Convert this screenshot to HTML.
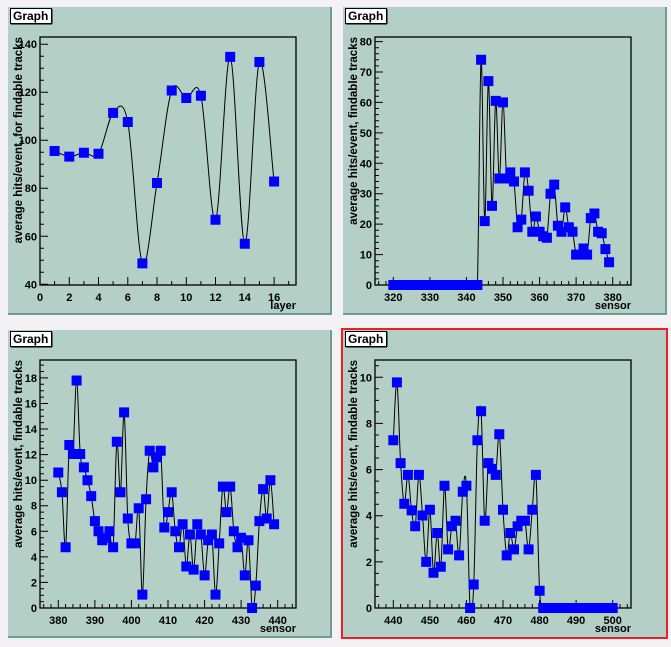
<!DOCTYPE html>
<html><head><meta charset="utf-8"><style>
html,body{margin:0;padding:0;background:#f3f1f4;}
svg{display:block;font-family:"Liberation Sans",sans-serif;}
</style></head><body>
<svg id="s" width="671" height="647" xmlns="http://www.w3.org/2000/svg"></svg>
<script>
var S=document.getElementById('s'),out='';
function catmull(p){
 if(p.length<2)return '';
 var d='M'+p[0][0].toFixed(2)+','+p[0][1].toFixed(2);
 for(var i=0;i<p.length-1;i++){
  var p0=p[i-1]||p[i],p1=p[i],p2=p[i+1],p3=p[i+2]||p[i+1];
  var c1x=p1[0]+(p2[0]-p0[0])/6,c1y=p1[1]+(p2[1]-p0[1])/6;
  var c2x=p2[0]-(p3[0]-p1[0])/6,c2y=p2[1]-(p3[1]-p1[1])/6;
  d+='C'+c1x.toFixed(2)+','+c1y.toFixed(2)+' '+c2x.toFixed(2)+','+c2y.toFixed(2)+' '+p2[0].toFixed(2)+','+p2[1].toFixed(2);
 }
 return d;
}
var pid=0;
function pad(ox,oy,c){
 pid++;
 var px0=ox+8,py0=oy+7,pw=324,ph=308;
 out+='<rect x="'+px0+'" y="'+py0+'" width="'+pw+'" height="'+ph+'" fill="#b4cfc6"/>';
 if(c.red){out+='<rect x="'+(px0-1)+'" y="'+(py0-1)+'" width="'+(pw+1)+'" height="'+(ph+1)+'" fill="none" stroke="#e8202a" stroke-width="2"/>';}
 else{
  out+='<rect x="'+(px0)+'" y="'+(py0+ph-2)+'" width="'+pw+'" height="2" fill="#6c9e90"/>';
  out+='<rect x="'+(px0+pw-2)+'" y="'+(py0)+'" width="2" height="'+ph+'" fill="#6c9e90"/>';
 }
 var fx0=ox+40,fx1=ox+296,fy0=oy+37,fy1=oy+285;
 function X(v){return fx0+(v-c.xmin)/(c.xmax-c.xmin)*(fx1-fx0);}
 function Y(v){return fy1-(v-c.ymin)/(c.ymax-c.ymin)*(fy1-fy0);}
 out+='<clipPath id="c'+pid+'"><rect x="'+fx0+'" y="'+fy0+'" width="'+(fx1-fx0)+'" height="'+(fy1-fy0)+'"/></clipPath>';
 // ticks
 var t='';
 for(var v=Math.ceil(c.xmin/c.xm)*c.xm;v<=c.xmax+1e-9;v+=c.xm){
  var x=X(v),maj=Math.abs(v/c.xM-Math.round(v/c.xM))<1e-6;
  t+='M'+x.toFixed(1)+','+fy1+'v-'+(maj?8:4);
  if(maj)out+='<text x="'+x.toFixed(1)+'" y="'+(fy1+16)+'" font-size="11" font-weight="bold" text-anchor="middle">'+Math.round(v)+'</text>';
 }
 for(var v=Math.ceil(c.ymin/c.ym)*c.ym;v<=c.ymax+1e-9;v+=c.ym){
  var y=Y(v),maj=Math.abs(v/c.yM-Math.round(v/c.yM))<1e-6;
  t+='M'+fx0+','+y.toFixed(1)+'h'+(maj?8:4);
  if(maj)out+='<text x="'+(fx0-3)+'" y="'+(y+4).toFixed(1)+'" font-size="11" font-weight="bold" text-anchor="end">'+Math.round(v)+'</text>';
 }
 out+='<rect x="'+fx0+'" y="'+fy0+'" width="'+(fx1-fx0)+'" height="'+(fy1-fy0)+'" fill="none" stroke="#000" stroke-width="1.3"/>';
 out+='<path d="'+t+'" stroke="#000" stroke-width="1" fill="none"/>';
 // titles
 out+='<text x="'+fx1+'" y="'+(oy+309)+'" font-size="11" font-weight="bold" text-anchor="end">'+c.xt+'</text>';
 out+='<text transform="translate('+(ox+22)+','+fy0+') rotate(-90)" font-size="11.5" font-weight="bold" text-anchor="end">'+c.yt+'</text>';
 // data
 var pts=c.d.map(function(p){return [X(p[0]),Y(p[1])];});
 out+='<path d="'+catmull(pts)+'" fill="none" stroke="#000" stroke-width="1" clip-path="url(#c'+pid+')"/>';
 var m='';
 pts.forEach(function(p){m+='M'+(p[0]-5).toFixed(1)+','+(p[1]-5).toFixed(1)+'h10v10h-10z';});
 out+='<path d="'+m+'" fill="#0000ff"/>';
 // Graph label
 out+='<rect x="'+(ox+10.5)+'" y="'+(oy+8.5)+'" width="41" height="15" fill="#fff" stroke="#000" stroke-width="1"/>';
 out+='<rect x="'+(ox+11)+'" y="'+(oy+23)+'" width="41" height="1.5" fill="#000"/><rect x="'+(ox+51)+'" y="'+(oy+9)+'" width="1.5" height="15" fill="#000"/>';
 out+='<text x="'+(ox+13)+'" y="'+(oy+20)+'" font-size="12" font-weight="bold">Graph</text>';
}
function seq(start,vals){return vals.map(function(v,i){return [start+i,v];});}
pad(0,0,{xmin:0,xmax:17.5,ymin:39.7,ymax:143,xm:1,xM:2,ym:5,yM:20,xt:'layer',yt:'average hits/event, for findable tracks',
 d:seq(1,[95.5,93.2,94.8,94.4,111.4,107.6,48.7,82.2,120.7,117.6,118.5,66.9,134.7,56.9,132.6,82.8])});
var d2=[];for(var i=320;i<=343;i++)d2.push(0);
d2=d2.concat([74,21,67,26,60.5,35,60,35,37,34,19,21.5,37,31,17.5,22.5,17.5,16,15.5,30,33,19.5,17.5,25.5,19,17.5,10,10,12,10,22,23.5,17.5,17,11.8,7.5]);
pad(335,0,{xmin:315,xmax:385,ymin:0,ymax:81.5,xm:2,xM:10,ym:2,yM:10,xt:'sensor',yt:'average hits/event, findable tracks',d:seq(320,d2)});
pad(0,323,{xmin:375,xmax:445,ymin:0,ymax:19.4,xm:2,xM:10,ym:0.5,yM:2,xt:'sensor',yt:'average hits/event, findable tracks',
 d:seq(380,[10.6,9.05,4.75,12.75,12.05,17.8,12.05,11.0,10.0,8.75,6.8,6.0,5.3,5.5,6.0,4.75,13.0,9.05,15.3,7.0,5.05,5.05,7.8,1.05,8.5,12.3,11.0,11.8,12.3,6.3,7.5,9.05,6.0,4.75,6.55,3.25,5.75,3.0,6.55,5.75,2.55,5.3,5.75,1.05,5.05,9.5,7.5,9.5,6.0,4.75,5.5,2.55,5.3,0,1.75,6.8,9.3,7.0,10.0,6.55])});
var d4=[7.27,9.78,6.28,4.52,5.77,4.23,3.54,5.77,4.01,2.0,4.26,1.53,3.25,1.79,5.3,2.54,3.54,3.78,2.28,5.04,5.3,0,1.02,7.27,8.53,3.78,6.28,6.03,5.77,7.53,4.26,2.28,3.25,2.54,3.54,3.78,3.78,2.54,4.26,5.77,0.75];
for(var i=481;i<=500;i++)d4.push(0);
pad(335,323,{red:true,xmin:435,xmax:505,ymin:0,ymax:10.75,xm:2,xM:10,ym:0.5,yM:2,xt:'sensor',yt:'average hits/event, findable tracks',d:seq(440,d4)});
S.innerHTML=out;
</script>
</body></html>
